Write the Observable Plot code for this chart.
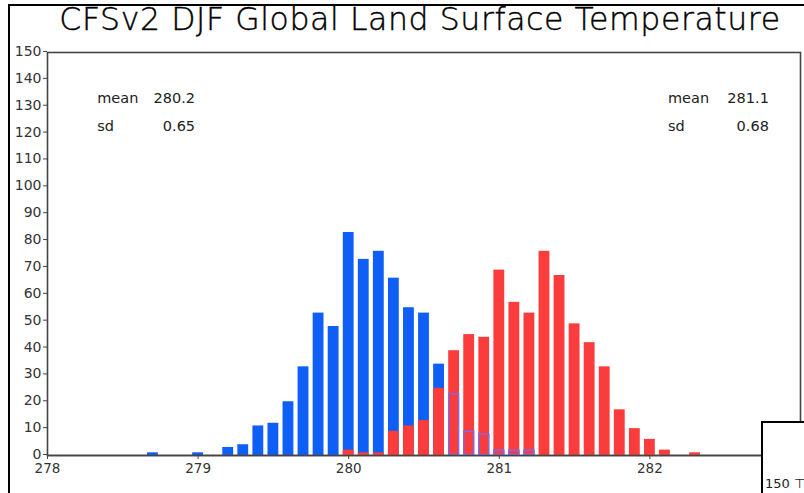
<!DOCTYPE html>
<html>
<head>
<meta charset="utf-8">
<script src="https://cdn.jsdelivr.net/npm/d3@7"></script>
<script src="https://cdn.jsdelivr.net/npm/@observablehq/plot@0.6"></script>
<style>
  html, body { margin: 0; padding: 0; background: #fff; }
  #wrap { position: relative; width: 804px; height: 493px; overflow: hidden; background: #fff; }
  #chart { position: absolute; left: 0; top: 0; }
  #title { position: absolute; left: 0; width: 840px; top: 1px; text-align: center;
           font-family: "DejaVu Sans", sans-serif; font-size: 31.5px; font-weight: 300; color: #000;
           -webkit-text-stroke: 0.4px #000; letter-spacing: 0.6px; white-space: nowrap; }
  .bl { position: absolute; background: #000; }
  #inset { position: absolute; left: 761px; top: 421px; width: 60px; height: 90px;
           border: 2px solid #000; background: #fff; }
  #inset span { position: absolute; left: 2px; top: 53px; font-family: "DejaVu Sans", sans-serif;
           font-size: 13px; color: #222; }
</style>
</head>
<body>
<div id="wrap">
  <div class="bl" style="left:8px;top:4px;width:800px;height:2px"></div>
  <div class="bl" style="left:8px;top:4px;width:2px;height:495px"></div>
  <div id="title">CFSv2 DJF Global Land Surface Temperature</div>
  <div id="chart"></div>
  <div id="inset"><span>150 ⊤</span></div>
</div>
<script>
// Bin centres (K)
const bins = [278.7, 279.0, 279.2, 279.3, 279.4, 279.5, 279.6, 279.7, 279.8, 279.9,
              280.0, 280.1, 280.2, 280.3, 280.4, 280.5, 280.6, 280.7, 280.8, 280.9,
              281.0, 281.1, 281.2, 281.3, 281.4, 281.5, 281.6, 281.7, 281.8, 281.9,
              282.0, 282.1, 282.3];
// Blue histogram counts (first distribution)
const blueCounts = [1, 1, 3, 4, 11, 12, 20, 33, 53, 48,
                    83, 73, 76, 66, 55, 53, 34, 23, 9, 8,
                    2, 2, 2, 0, 0, 0, 0, 0, 0, 0,
                    0, 0, 0];
// Red histogram counts (second distribution)
const redCounts = [0, 0, 0, 0, 0, 0, 0, 0, 0, 0,
                   2, 1, 1, 9, 11, 13, 25, 39, 45, 44,
                   69, 57, 53, 76, 67, 49, 42, 33, 17, 10,
                   6, 2, 1];
const xTicks = [278, 279, 280, 281, 282];
const yTicks = d3.range(0, 151, 10);
const statLabels = ["mean", "sd"];
const blueStats = ["280.2", "0.65"];
const redStats = ["281.1", "0.68"];

const blue = bins.map((t, i) => ({t, n: blueCounts[i], r: redCounts[i]})).filter(d => d.n > 0);
const red = bins.map((t, i) => ({t, n: redCounts[i]})).filter(d => d.n > 0);
const hw = 0.036;

const statRows = statLabels.map((s, i) => ({label: s, b: blueStats[i], r: redStats[i], row: i}));
const rowY = r => 133 - r * 10.5;
const txtFont = "DejaVu Sans, sans-serif";

const chart = Plot.plot({
  width: 804,
  height: 493,
  marginLeft: 47,
  marginRight: 4,
  marginTop: 52,
  marginBottom: 38,
  style: {background: "transparent", overflow: "visible", fontFamily: txtFont},
  x: {domain: [278, 283], ticks: xTicks, tickSize: 4, label: null, tickFormat: d => d},
  y: {domain: [0, 150], ticks: yTicks, tickSize: 4, label: null},
  marks: [
    Plot.frame({stroke: "#444", strokeWidth: 1.6}),
    Plot.rectY(blue, {x1: d => d.t - hw, x2: d => d.t + hw, y: "n", fill: "#0f5ef5"}),
    Plot.rectY(red, {x1: d => d.t - hw, x2: d => d.t + hw, y: "n", fill: "#fa3c3c"}),
    Plot.rectY(blue.filter(d => d.r > 0 && d.r >= d.n),
      {x1: d => d.t - hw, x2: d => d.t + hw, y: "n", fill: "none", stroke: "#8466e6", strokeWidth: 1.5, inset: 0.5}),
    Plot.ruleY([0], {stroke: "#444", strokeWidth: 1.6}),
    Plot.axisY({ticks: yTicks, tickSize: 4, tickPadding: 2, fontSize: 14, stroke: "#444", fill: "#333", dy: -1}),
    Plot.axisX({ticks: xTicks, tickSize: 4, tickPadding: 4, fontSize: 13.5, stroke: "#444", fill: "#333", tickFormat: d => d}),
    Plot.text(statRows, {x: 278.33, y: d => rowY(d.row), text: "label", textAnchor: "start", fontSize: 14.5, fill: "#222", fontFamily: txtFont}),
    Plot.text(statRows, {x: 278.98, y: d => rowY(d.row), text: "b", textAnchor: "end", fontSize: 14.5, fill: "#222", fontFamily: txtFont}),
    Plot.text(statRows, {x: 282.12, y: d => rowY(d.row), text: "label", textAnchor: "start", fontSize: 14.5, fill: "#222", fontFamily: txtFont}),
    Plot.text(statRows, {x: 282.79, y: d => rowY(d.row), text: "r", textAnchor: "end", fontSize: 14.5, fill: "#222", fontFamily: txtFont})
  ]
});
document.getElementById("chart").appendChild(chart);
</script>
</body>
</html>
